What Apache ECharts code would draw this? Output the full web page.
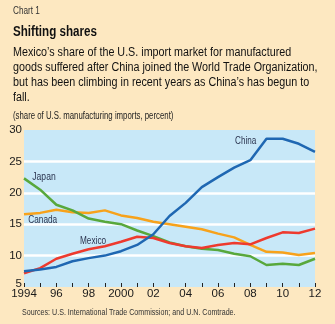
<!DOCTYPE html>
<html><head><meta charset="utf-8">
<script src="https://cdn.jsdelivr.net/npm/echarts@6/dist/echarts.min.js"></script>
<style>html,body{margin:0;padding:0;background:#fde8c1;}#c{width:335px;height:324px;}</style>
</head><body><div id="c"></div>
<script>
const years = ['1994','1995','1996','1997','1998','1999','2000','2001','2002','2003','2004','2005','2006','2007','2008','2009','2010','2011','2012'];
const yearLabels = ['1994','','96','','98','','2000','','02','','04','','06','','08','','10','','12'];
const china  = [7.5, 7.8, 8.2, 9.1, 9.6, 10.0, 10.7, 11.7, 13.4, 16.3, 18.4, 20.9, 22.5, 24.0, 25.2, 28.6, 28.6, 27.8, 26.5];
const japan  = [22.3, 20.5, 18.1, 17.2, 15.9, 15.4, 15.0, 14.0, 13.1, 12.1, 11.5, 11.1, 10.9, 10.3, 9.9, 8.5, 8.7, 8.5, 9.5];
const canada = [16.6, 16.8, 17.3, 16.9, 16.8, 17.2, 16.4, 16.0, 15.4, 15.0, 14.6, 14.2, 13.5, 12.9, 11.7, 10.6, 10.5, 10.1, 10.4];
const mexico = [7.2, 8.0, 9.5, 10.3, 11.0, 11.5, 12.2, 13.0, 12.8, 12.0, 11.5, 11.2, 11.7, 12.0, 11.8, 12.8, 13.7, 13.6, 14.3];
const FONT = '"Liberation Sans",Arial,sans-serif';
const txt = '#1a1a1a';
const chart = echarts.init(document.getElementById('c'));
function ln(name, data, color){
  return {name, type:'line', data, symbol:'none', smooth:false,
    lineStyle:{color, width:2.5}, itemStyle:{color}};
}
function t(text, x, y, font, sx, fill){
  return {type:'text', x, y, scaleX:sx, scaleY:1, silent:true,
    style:{text, font:font+' '+FONT, fill:fill||'#111', textVerticalAlign:'top', textAlign:'left'}};
}
chart.setOption({
  animation:false,
  backgroundColor:'#fde8c1',
  grid:{left:24, right:20, top:130, bottom:37, show:true, backgroundColor:'#c8e8f8', borderWidth:0},
  xAxis:{type:'category', data:years, boundaryGap:false,
    axisLine:{show:false},
    axisTick:{show:true, inside:true, length:4, interval:0, lineStyle:{color:'#222', width:1}},
    axisLabel:{interval:0, margin:1, color:txt, fontFamily:FONT, fontSize:11.5,
      formatter:(v,i)=>yearLabels[i]}
  },
  yAxis:{type:'value', min:5, max:30, interval:5,
    axisLine:{show:false}, axisTick:{show:false},
    axisLabel:{margin:2, color:txt, fontFamily:FONT, fontSize:11.5,
      formatter:v=> v===5 ? '{b|5}' : String(v),
      rich:{b:{fontFamily:FONT, fontSize:11.5, color:txt, padding:[0,0,7,0]}}},
    splitLine:{show:true, showMinLine:false, showMaxLine:false, lineStyle:{color:'#ffffff', width:2.5}}
  },
  series:[
    ln('Canada', canada, '#f7a21b'),
    ln('Japan', japan, '#58a83c'),
    ln('Mexico', mexico, '#ee3a2e'),
    ln('China', china, '#1f67b2')
  ],
  graphic:[
    t('Chart 1', 13, 6, '10px', 0.82, '#333'),
    t('Shifting shares', 13, 25.3, 'bold 14px', 0.83, '#111'),
    t('Mexico’s share of the U.S. import market for manufactured', 13, 46, '12.5px', 0.86),
    t('goods suffered after China joined the World Trade Organization,', 13, 61, '12.5px', 0.86),
    t('but has been climbing in recent years as China’s has begun to', 13, 76, '12.5px', 0.86),
    t('fall.', 13, 91.5, '12.5px', 0.86),
    t('(share of U.S. manufacturing imports, percent)', 13, 111.5, '10px', 0.78, '#222'),
    t('China', 235, 135.6, '11px', 0.74, '#2b3550'),
    t('Japan', 32.3, 171, '11px', 0.78, '#2b3550'),
    t('Canada', 28.3, 214, '11px', 0.75, '#2b3550'),
    t('Mexico', 80, 235.5, '11px', 0.75, '#2b3550'),
    t('Sources: U.S. International Trade Commission; and U.N. Comtrade.', 22, 308.3, '9px', 0.79, '#333')
  ]
});
</script></body></html>
